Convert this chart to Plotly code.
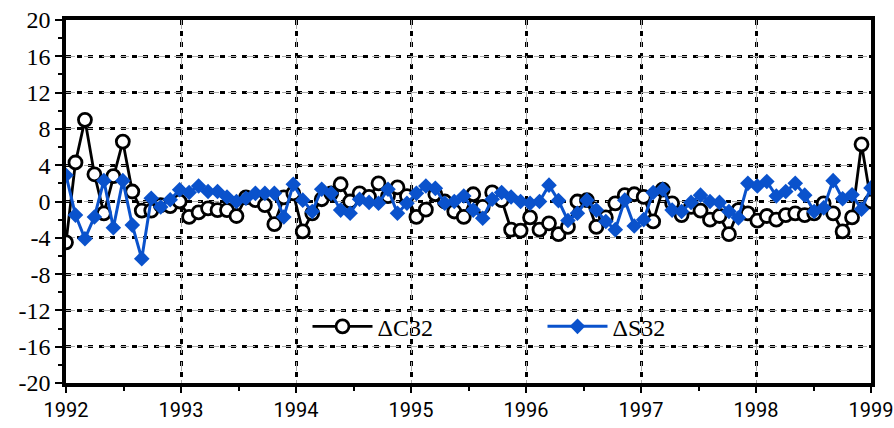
import numpy as np
import plotly.graph_objects as go

# monthly series, Jan 1992 .. Jan 1999 (86 samples across the span)
dC32 = [-4.5, 4.3, 9.0, 3.0, -1.3, 2.8, 6.6, 1.1, -1.0, -1.0, -0.4, -0.5, 0.0,
        -1.7, -1.2, -0.75, -0.95, -0.95, -1.6, 0.45, 0.15, -0.4, -2.5, 0.45, 0.9,
        -3.3, -1.3, 0.25, 0.9, 1.9, 0.0, 0.9, 0.5, 2.0, 0.6, 1.55, 0.6,
        -1.7, -0.9, 0.8, 0.0, -1.1, -1.7, 0.8, -0.6, 1.0, 0.15, -3.1, -3.2,
        -1.75, -3.1, -2.4, -3.6, -2.8, 0.0, 0.15, -2.8, -1.75, -0.2, 0.7, 0.8,
        0.5, -2.2, 1.3, -0.2, -1.5, -0.6, -1.0, -2.0, -1.6, -3.6, -0.95, -1.3,
        -2.1, -1.6, -2.0, -1.5, -1.3, -1.5, -1.3, -0.2, -1.3, -3.3, -1.75, 6.3, 0.0]
dS32 = [2.9, -1.5, -4.1, -1.7, 2.3, -2.9, 2.3, -2.6, -6.3, 0.35, -0.6, 0.2, 1.3,
        1.0, 1.7, 1.1, 1.1, 0.5, 0.0, 0.35, 0.9, 0.9, 0.9, -1.7, 1.9,
        0.15, -1.1, 1.35, 0.9, -0.95, -1.3, 0.25, -0.1, -0.2, 1.35, -1.3, -0.2,
        0.9, 1.7, 1.45, -0.2, 0.0, 0.6, -0.95, -1.85, 0.25, 1.0, 0.5, 0.0,
        -0.2, 0.0, 1.8, 0.1, -2.1, -1.3, 0.15, -0.95, -2.2, -3.1, 0.15, -2.7,
        -2.0, 1.0, 1.35, -0.95, -1.1, -0.1, 0.7, 0.0, -0.1, -1.1, -1.8, 2.0,
        1.7, 2.2, 0.6, 1.1, 2.0, 0.7, -1.1, -0.7, 2.3, 0.3, 0.75, -0.85, 1.5]
years = list(np.linspace(1992, 1999, len(dC32)))
year_ticks = [1992, 1993, 1994, 1995, 1996, 1997, 1998, 1999]
y_ticks = [-20, -16, -12, -8, -4, 0, 4, 8, 12, 16, 20]
y_labels = ["-20", "-16", "-12", "-8", "-4", "0", "4", "8", "12", "16", "20"]

BLUE = "#0A52CC"
SERIF = "Liberation Serif, Times New Roman, serif"
NARROW = "Roboto, sans-serif"

fig = go.Figure()
fig.add_trace(go.Scatter(
    x=years, y=dC32, name="ΔC32", mode="lines+markers",
    line=dict(color="black", width=2.8),
    marker=dict(symbol="circle", size=13, color="white",
                line=dict(color="black", width=2.8)),
))
fig.add_trace(go.Scatter(
    x=years, y=dS32, name="ΔS32", mode="lines+markers",
    line=dict(color=BLUE, width=3),
    marker=dict(symbol="diamond", size=12, color=BLUE,
                line=dict(color=BLUE, width=0)),
))

# secondary (thin gray) dashed grid overlay
fig.add_trace(go.Scatter(x=[1992], y=[0], xaxis="x2", yaxis="y2",
                         mode="markers", marker=dict(opacity=0),
                         showlegend=False, hoverinfo="skip"))

fig.update_layout(
    width=894, height=428,
    margin=dict(l=66, r=23, t=20, b=45, autoexpand=False),
    plot_bgcolor="white", paper_bgcolor="white",
    showlegend=True,
    legend=dict(orientation="h", x=0.3, y=0.155, xanchor="left", yanchor="middle",
                bgcolor="rgba(0,0,0,0)", entrywidth=160, entrywidthmode="pixels",
                font=dict(family=SERIF, size=24, color="black"),
                itemwidth=60),
    xaxis=dict(range=[1992, 1999], tickvals=year_ticks,
               ticktext=[str(v) for v in year_ticks],
               ticklabeloverflow="allow",
               showline=True, linewidth=3.5, linecolor="black", mirror=True,
               ticks="outside", ticklen=6, tickwidth=2, tickcolor="black",
               minor=dict(dtick=0.5, ticks="outside", ticklen=4, tickwidth=2,
                          tickcolor="black", showgrid=False),
               showgrid=True, gridcolor="black", gridwidth=2.5, griddash="5px,6px",
               zeroline=False,
               tickfont=dict(family=NARROW, size=20, color="black")),
    yaxis=dict(range=[-20, 20], tickvals=y_ticks, ticktext=y_labels,
               ticklabeloverflow="allow",
               showline=True, linewidth=3.5, linecolor="black", mirror=True,
               ticks="outside", ticklen=7, tickwidth=2, tickcolor="black",
               minor=dict(dtick=2, ticks="outside", ticklen=4, tickwidth=2,
                          tickcolor="black", showgrid=False),
               showgrid=True, gridcolor="black", gridwidth=2.5, griddash="5px,6px",
               zeroline=False,
               tickfont=dict(family=SERIF, size=24, color="black")),
    xaxis2=dict(range=[1992, 1999], overlaying="x", tickvals=year_ticks,
                showticklabels=False, showline=False, zeroline=False,
                showgrid=True, gridcolor="#aaaaaa", gridwidth=1, griddash="dash"),
    yaxis2=dict(range=[-20, 20], overlaying="y", tickvals=y_ticks,
                showticklabels=False, showline=False, zeroline=False,
                showgrid=True, gridcolor="#aaaaaa", gridwidth=1, griddash="dash"),
)

fig.write_html("out.html")
